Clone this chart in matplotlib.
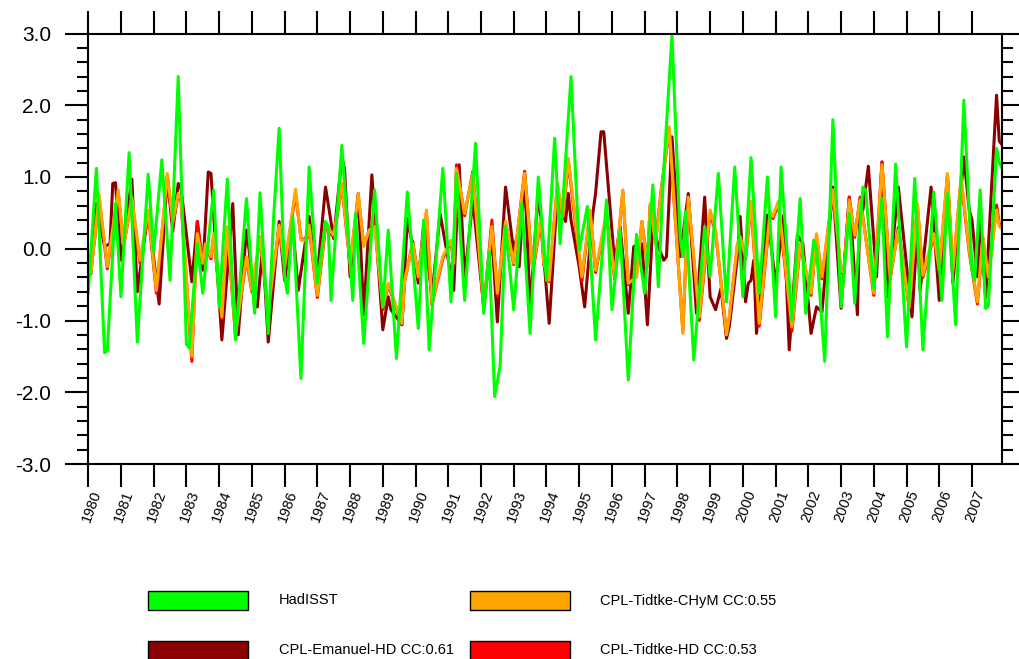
import matplotlib
matplotlib.use("Agg")
import matplotlib.pyplot as plt
from matplotlib.patches import Rectangle
from matplotlib.ticker import MultipleLocator
from matplotlib.transforms import ScaledTranslation

plt.rcParams['font.family'] = ['Liberation Sans', 'DejaVu Sans']
plt.rcParams['axes.unicode_minus'] = False

# monthly anomalies, (month index from Jan 1980, value) at the turning points
hadisst = [
    (0, -0.62), (3, 1.12), (6, -1.45), (7, -1.42), (10, 0.63), (12, -0.67), (15, 1.34), (18, -1.30),
    (22, 1.04), (24, -0.04), (27, 1.24), (30, -0.44), (33, 2.40), (36, -1.33), (37, -1.38), (40, 0.07),
    (42, -0.62), (46, 0.82), (48, -0.81), (51, 0.97), (54, -1.27), (58, 0.70), (61, -0.90), (63, 0.78),
    (66, -1.18), (68, 0.45), (70, 1.68), (72, -0.39), (73, -0.62), (75, 0.45), (78, -1.81), (81, 1.14),
    (84, -0.48), (87, 0.38), (88, 0.31), (89, -0.72), (93, 1.44), (97, -0.72), (98, 0.49), (101, -1.32),
    (105, 0.82), (108, -0.81), (110, 0.26), (113, -1.53), (117, 0.79), (121, -1.11), (123, 0.40),
    (125, -1.41), (130, 1.12), (133, -0.74), (135, 1.05), (138, -0.72), (142, 1.47), (145, -0.90),
    (147, -0.04), (149, -2.06), (151, -1.64), (153, 0.31), (156, -0.85), (159, 0.63), (162, -1.18),
    (165, 1.00), (168, -0.44), (171, 1.54), (173, 0.07), (177, 2.40), (180, -0.02), (183, 0.59),
    (186, -1.27), (190, 0.68), (192, -0.85), (195, 0.26), (198, -1.83), (201, 0.20), (204, -0.62),
    (207, 0.89), (209, -0.53), (211, 1.10), (214, 2.98), (217, 0.17), (218, -0.11), (219, 0.52),
    (222, -1.55), (226, 0.31), (228, -0.39), (231, 1.05), (234, -0.74), (237, 1.14), (240, -0.67),
    (243, 1.27), (246, -0.62), (249, 1.00), (252, -0.95), (254, 1.14), (258, -0.99), (261, 0.70),
    (263, -0.90), (266, 0.12), (267, 0.00), (270, -1.57), (273, 1.80), (276, -0.81), (279, 0.49),
    (281, -0.76), (284, 0.86), (285, 0.82), (288, -0.55), (291, 0.70), (293, -1.23), (296, 1.18),
    (300, -1.37), (303, 0.98), (306, -1.41), (310, 0.79), (313, -0.72), (315, 0.77), (318, -1.06),
    (321, 2.07), (324, -0.30), (325, -0.44), (327, 0.82), (329, -0.83), (330, -0.80), (333, 1.40),
    (334, 1.20), (335, 1.12),
]

emanuel_hd = [
    (0, -0.10), (1, -0.35), (3, 0.63), (6, 0.03), (8, 0.07), (9, 0.91), (10, 0.92), (12, -0.16),
    (16, 0.97), (18, -0.60), (22, 0.52), (26, -0.77), (29, 1.00), (31, 0.24), (33, 0.91), (34, 0.85),
    (38, -0.46), (40, 0.38), (42, -0.30), (44, 1.07), (45, 1.05), (49, -1.27), (53, 0.63), (55, -1.20),
    (58, 0.26), (59, -0.02), (61, -0.81), (62, -0.81), (64, 0.03), (66, -1.30), (70, 0.38), (72, -0.44),
    (75, 0.31), (77, -0.58), (81, 0.45), (84, -0.37), (87, 0.86), (90, 0.14), (93, 1.28), (94, 1.10),
    (96, -0.39), (99, 0.77), (101, -0.92), (104, 1.03), (108, -1.13), (110, -0.67), (111, -0.85),
    (115, -1.06), (117, 0.42), (119, 0.03), (121, -0.48), (123, 0.35), (126, -0.67), (129, 0.49),
    (134, -0.58), (136, 1.17), (138, -0.41), (141, 0.68), (145, -0.81), (148, 0.17), (150, -1.02),
    (153, 0.86), (156, -0.04), (157, 0.14), (158, -0.25), (160, 1.04), (162, -0.83), (165, 0.82),
    (169, -1.04), (172, 0.77), (173, 0.59), (175, 0.38), (176, 0.77), (177, 0.40), (180, -0.25),
    (182, -0.81), (185, 0.49), (186, 0.77), (188, 1.63), (189, 1.63), (193, -0.20), (195, 0.31),
    (198, -0.90), (200, 0.03), (201, 0.05), (203, 0.07), (205, -1.06), (207, 0.35), (209, 0.03),
    (211, -0.16), (212, -0.11), (214, 1.56), (217, -0.11), (220, 0.77), (223, -0.90), (226, 0.72),
    (228, -0.67), (230, -0.85), (232, -0.55), (234, -1.25), (235, -1.09), (238, -0.11), (239, 0.45),
    (241, -0.74), (242, -0.48), (243, -0.44), (244, -0.16), (245, -1.18), (249, 0.47), (252, -0.48),
    (255, 0.47), (257, -1.41), (260, 0.19), (262, 0.07), (265, -1.18), (267, -0.81), (269, -0.88),
    (273, 0.86), (276, -0.83), (279, 0.72), (282, -0.92), (283, 0.70), (284, 0.54), (286, 1.15),
    (289, -0.39), (291, 1.21), (293, -0.67), (297, 0.86), (302, -0.95), (304, 0.30), (305, -0.58),
    (309, 0.86), (312, -0.72), (315, 1.00), (317, -0.48), (321, 1.28), (323, 0.54), (324, 0.40),
    (326, -0.39), (327, 0.47), (329, -0.69), (333, 2.14), (334, 1.50), (335, 1.45),
]

tidtke_chym = [
    (0, -0.16), (1, -0.34), (4, 0.75), (7, -0.25), (11, 0.82), (13, 0.03), (16, 0.72), (19, -0.16),
    (22, 0.54), (25, -0.58), (29, 1.05), (31, 0.38), (33, 0.77), (34, 0.70), (38, -1.50), (40, 0.21),
    (42, -0.20), (43, 0.07), (45, -0.11), (46, 0.21), (49, -0.95), (51, 0.31), (54, -1.20), (58, -0.11),
    (60, -0.58), (63, 0.17), (66, -0.85), (70, 0.33), (72, -0.25), (76, 0.83), (78, 0.12), (80, 0.12),
    (81, 0.33), (84, -0.65), (87, 0.33), (90, 0.19), (93, 0.91), (96, -0.20), (99, 0.77), (101, 0.03),
    (103, 0.26), (105, 0.31), (108, -0.81), (110, -0.48), (115, -1.04), (116, -0.44), (119, 0.07),
    (121, -0.39), (124, 0.54), (126, -0.76), (130, -0.11), (133, 0.12), (134, -0.20), (135, 1.12),
    (138, 0.49), (141, 1.05), (145, -0.81), (148, 0.31), (150, -0.62), (153, 0.38), (156, -0.20),
    (160, 1.05), (163, -0.30), (166, 0.45), (167, -0.20), (169, -0.44), (172, 0.91), (174, 0.45),
    (176, 1.26), (181, -0.39), (184, 0.54), (186, -0.30), (190, 0.49), (193, -0.39), (196, 0.82),
    (198, -0.48), (201, -0.40), (203, 0.38), (205, -0.25), (206, 0.63), (208, 0.07), (210, 0.77),
    (213, 1.70), (218, -1.18), (220, 0.72), (224, -0.95), (228, 0.54), (230, 0.26), (234, -1.20),
    (235, -0.95), (238, 0.07), (239, 0.17), (241, -0.11), (243, 0.66), (246, -1.04), (250, 0.52),
    (251, 0.45), (253, 0.66), (258, -1.09), (261, 0.07), (265, -0.62), (267, 0.21), (269, -0.39),
    (273, 0.82), (276, -0.30), (277, -0.34), (279, 0.68), (281, 0.19), (283, 0.68), (288, -0.62),
    (291, 1.17), (294, -0.39), (297, 0.26), (301, -0.81), (304, 0.63), (306, -0.37), (310, 0.21),
    (312, -0.30), (315, 1.05), (317, -0.30), (320, 1.00), (323, -0.02), (326, -0.74), (328, 0.17),
    (330, -0.39), (333, 0.54), (334, 0.31), (335, 0.28),
]

tidtke_hd = [
    (0, -0.14), (1, -0.32), (4, 0.70), (7, -0.28), (11, 0.78), (13, 0.05), (16, 0.68), (19, -0.20),
    (22, 0.50), (25, -0.62), (29, 1.00), (31, 0.35), (33, 0.74), (34, 0.68), (38, -1.57), (40, 0.38),
    (42, -0.22), (43, 0.05), (45, -0.14), (46, 0.18), (49, -0.98), (51, 0.28), (54, -1.22), (58, -0.14),
    (60, -0.60), (63, 0.15), (66, -0.88), (70, 0.30), (72, -0.28), (76, 0.78), (78, 0.15), (80, 0.10),
    (81, 0.30), (84, -0.68), (87, 0.30), (90, 0.16), (93, 0.88), (96, -0.22), (99, 0.74), (101, 0.05),
    (103, 0.24), (105, 0.40), (108, -0.85), (110, -0.50), (115, -1.06), (116, -0.46), (119, 0.10),
    (121, -0.40), (124, 0.50), (126, -0.78), (130, -0.14), (133, 0.10), (134, -0.22), (135, 1.17),
    (138, 0.46), (141, 1.08), (145, -0.84), (148, 0.40), (150, -0.66), (153, 0.36), (156, -0.22),
    (160, 1.08), (163, -0.33), (166, 0.42), (167, -0.22), (169, -0.46), (172, 0.88), (174, 0.42),
    (176, 1.22), (181, -0.45), (184, 0.52), (186, -0.33), (190, 0.46), (193, -0.42), (196, 0.80),
    (198, -0.50), (201, -0.36), (203, 0.38), (205, -0.22), (206, 0.60), (208, 0.10), (210, 0.80),
    (213, 1.66), (218, -1.15), (220, 0.70), (224, -1.00), (228, 0.50), (230, 0.23), (234, -1.18),
    (235, -0.98), (238, 0.05), (239, 0.15), (241, -0.14), (243, 0.62), (246, -1.08), (250, 0.50),
    (251, 0.42), (253, 0.62), (258, -1.15), (261, 0.05), (265, -0.65), (267, 0.18), (269, -0.42),
    (273, 0.80), (276, -0.33), (277, -0.36), (279, 0.72), (281, 0.16), (283, 0.72), (288, -0.65),
    (291, 1.21), (294, -0.42), (297, 0.30), (301, -0.84), (304, 0.60), (306, -0.40), (310, 0.18),
    (312, -0.33), (315, 1.02), (317, -0.33), (320, 0.96), (323, -0.05), (326, -0.77), (328, 0.14),
    (330, -0.42), (333, 0.61), (334, 0.35), (335, 0.32),
]

years = list(range(1980, 2008))
y_ticks = [-3.0, -2.0, -1.0, 0.0, 1.0, 2.0, 3.0]

# drawing order: bottom to top
series = [
    (emanuel_hd, '#8b0000'),
    (tidtke_hd, '#ff0000'),
    (tidtke_chym, '#ffa500'),
    (hadisst, '#00ff00'),
]

legend_rows = [
    ('HadISST', '#00ff00', 0, 0),
    ('CPL-Tidtke-CHyM CC:0.55', '#ffa500', 1, 0),
    ('CPL-Emanuel-HD CC:0.61', '#8b0000', 0, 1),
    ('CPL-Tidtke-HD CC:0.53', '#ff0000', 1, 1),
]

W, H = 1019, 659
fig = plt.figure(figsize=(W / 100, H / 100), dpi=100)
ax = fig.add_axes([88.2 / W, (H - 464) / H, 913.8 / W, 430.5 / H])

for data, color in series:
    months = [m for m, v in data]
    vals = [v for m, v in data]
    ax.plot(months, vals, color=color, lw=2.2, solid_joinstyle='round')

ax.set_xlim(0, 335)
ax.set_ylim(-3, 3)
ax.set_xticks([12 * i for i in range(len(years))])
ax.set_xticklabels([str(y) for y in years], rotation=70, fontsize=10.5)
ax.set_yticks(y_ticks)
ax.set_yticklabels(['%.1f' % v for v in y_ticks], fontsize=15)
ax.yaxis.set_minor_locator(MultipleLocator(0.2))

ax.tick_params(axis='both', which='major', direction='out', length=16.5, width=1.5,
               top=True, right=True)
ax.tick_params(axis='y', which='minor', direction='out', length=8, width=1.5, right=True)
ax.tick_params(axis='y', which='major', pad=10)
ax.tick_params(axis='x', which='major', pad=1)
for s in ax.spines.values():
    s.set_linewidth(1.5)

shift = ScaledTranslation(3 / 100, 0, fig.dpi_scale_trans)
for lab in ax.get_xticklabels():
    lab.set_horizontalalignment('center')
    lab.set_transform(lab.get_transform() + shift)

# legend boxes below the plot
box_x = [148, 470]
text_x = [279, 600]
box_top = [591, 641]
for label, color, col, row in legend_rows:
    top = box_top[row]
    fig.patches.append(Rectangle((box_x[col] / W, (H - top - 19) / H), 100 / W, 19 / H,
                                 transform=fig.transFigure, facecolor=color,
                                 edgecolor='black', lw=1.0))
    fig.text(text_x[col] / W, (H - top - 9.5) / H, label, fontsize=10.5,
             ha='left', va='center')

fig.savefig('out.png', dpi=100)
